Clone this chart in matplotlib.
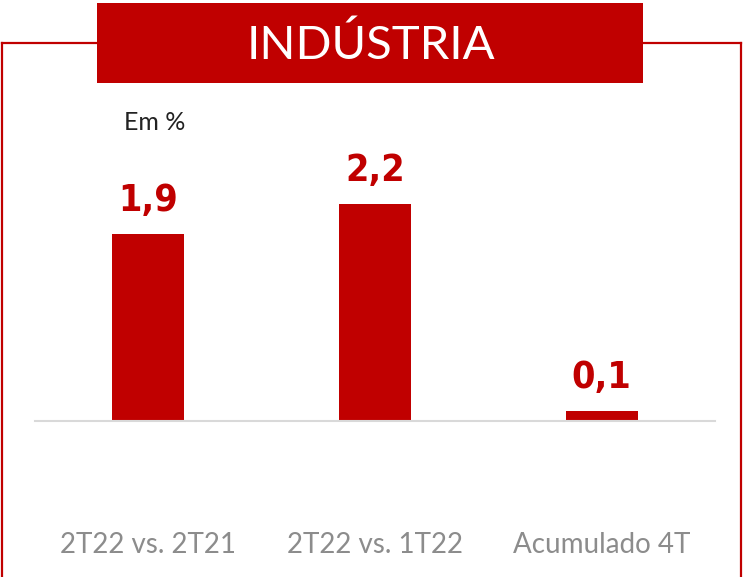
import matplotlib
matplotlib.use("Agg")
import matplotlib.pyplot as plt
from matplotlib.patches import Rectangle
from matplotlib.lines import Line2D

# dados
categorias = ["2T22 vs. 2T21", "2T22 vs. 1T22", "Acumulado 4T"]
valores = [1.9, 2.2, 0.1]
rotulos = ["1,9", "2,2", "0,1"]
titulo = "INDÚSTRIA"
unidade = "Em %"

VERMELHO = "#c00000"
CINZA = "#8c8c8c"

W, H = 744, 577
fig = plt.figure(figsize=(W / 100, H / 100), dpi=100)

# moldura vermelha
fig.add_artist(Line2D([2 / W, 2 / W], [0, 1 - 43 / H], color=VERMELHO, lw=1.6))
fig.add_artist(Line2D([741 / W, 741 / W], [0, 1 - 43 / H], color=VERMELHO, lw=1.6))
fig.add_artist(Line2D([2 / W, 741 / W], [1 - 43 / H, 1 - 43 / H], color=VERMELHO, lw=1.6))

# caixa do titulo
fig.add_artist(Rectangle((97 / W, 1 - 83 / H), (643 - 97) / W, 80 / H,
                         facecolor=VERMELHO, edgecolor="none", transform=fig.transFigure))
fig.text(371 / W, 1 - 45 / H, titulo, color="white", fontsize=34,
         family="Lato", ha="center", va="center")

fig.text(155 / W, 1 - 122 / H, unidade, color="#222222", fontsize=18,
         family="Lato", ha="center", va="center")

# eixo
ax = fig.add_axes([35 / W, (H - 421) / H, 680 / W, 256 / H])
x = range(len(categorias))
barras = ax.bar(x, valores, width=0.317, color=VERMELHO)
ax.set_xlim(-0.5, 2.5)
ax.set_ylim(0, 2.6)
for b, r in zip(barras, rotulos):
    ax.annotate(r, (b.get_x() + b.get_width() / 2, b.get_height()),
                xytext=(0, 11), textcoords="offset points", ha="center", va="bottom",
                color=VERMELHO, fontsize=27, fontweight="bold",
                family="DejaVu Sans", fontstretch="condensed")

for s in ["top", "right", "left"]:
    ax.spines[s].set_visible(False)
ax.spines["bottom"].set_color("#d9d9d9")
ax.spines["bottom"].set_linewidth(1.5)
ax.set_yticks([])
ax.set_xticks(list(x))
ax.set_xticklabels(categorias, color=CINZA, fontsize=20, family="Lato")
ax.tick_params(axis="x", length=0, pad=80)

fig.savefig("out.png", dpi=100)
